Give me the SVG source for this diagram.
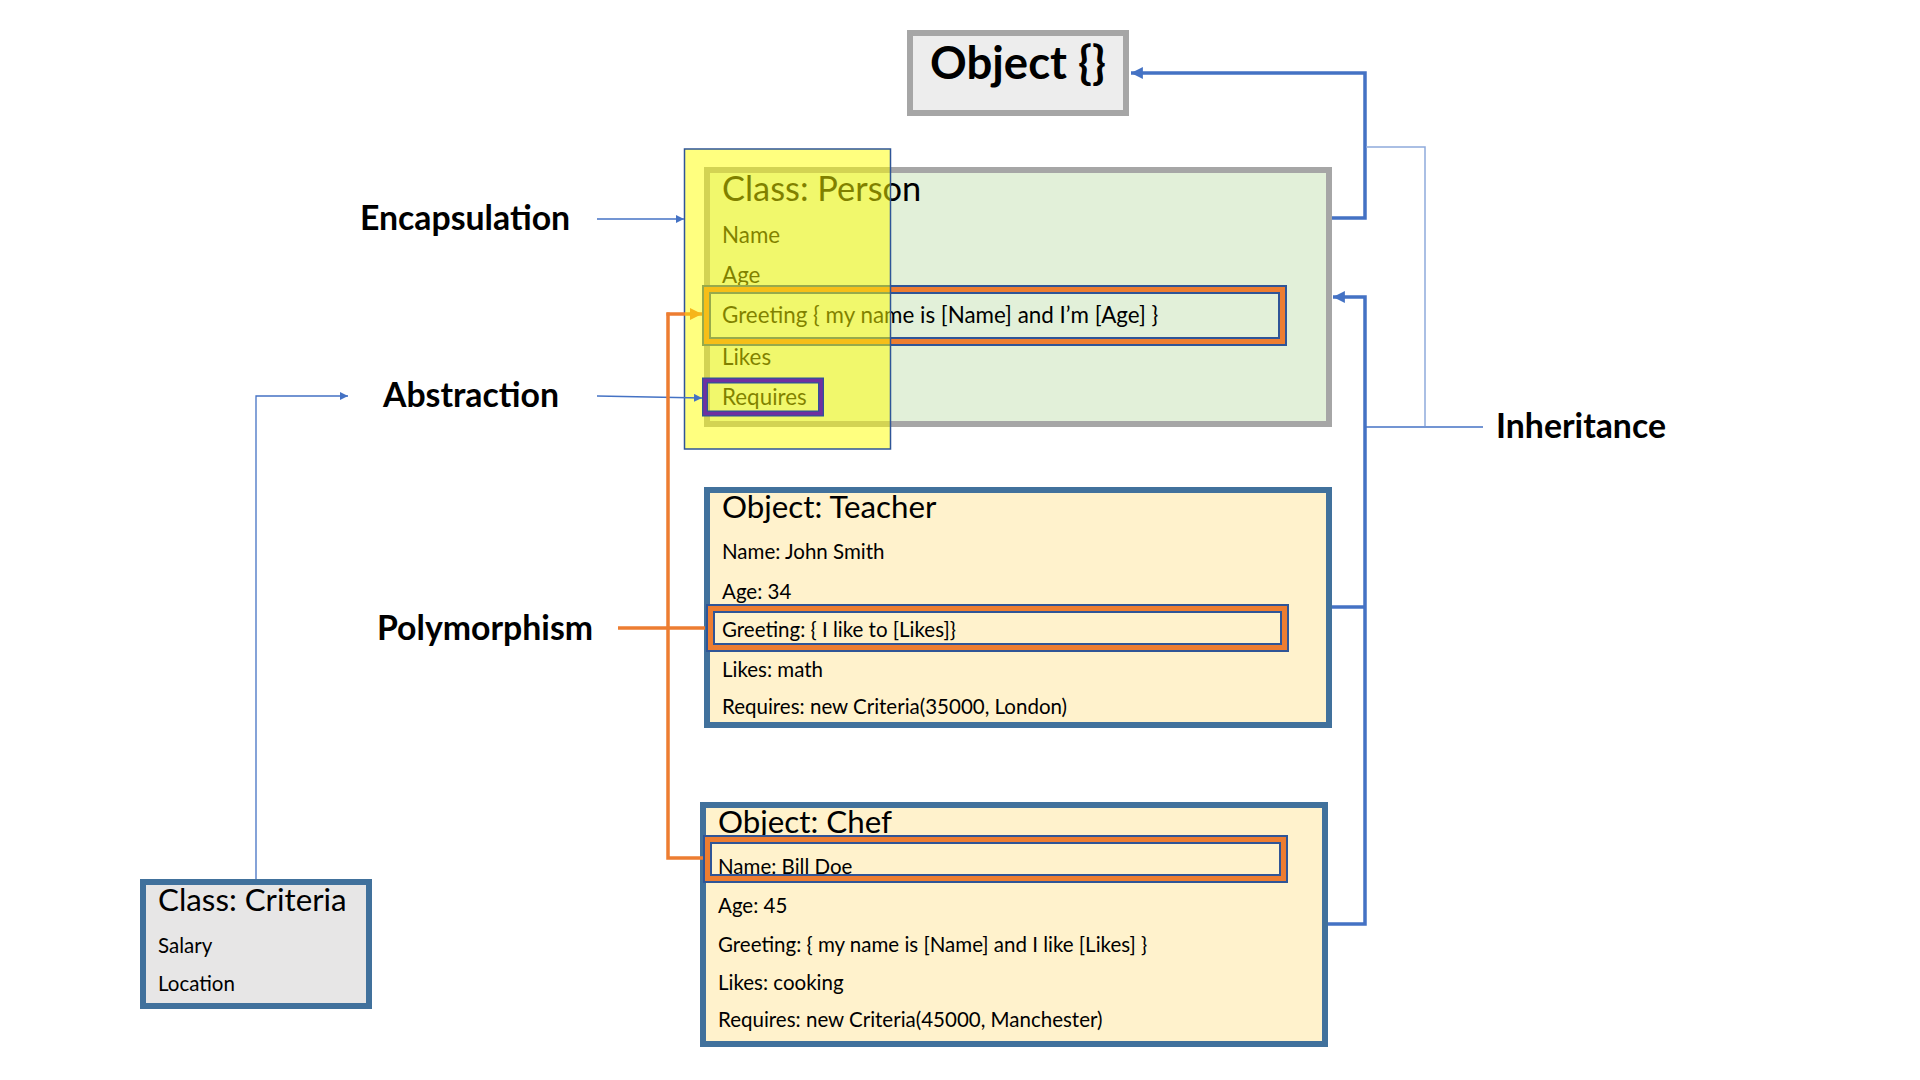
<svg xmlns="http://www.w3.org/2000/svg" width="1920" height="1080" viewBox="0 0 1920 1080">
<style>
text{font-family:Lato,"Open Sans","Liberation Sans",sans-serif;fill:#000}
.lbl{font-weight:bold;font-size:33.8px;text-anchor:middle}
.title{font-size:34.4px}
.sub{font-size:31.3px}
.body{font-size:20.5px}
.pbody{font-size:22.4px}
.obox{fill:#fff2cc;stroke:#41719c;stroke-width:6}
.hlb{fill:none;stroke:#2f5597;stroke-width:9}
.hlo{fill:none;stroke:#ed7d31;stroke-width:5}
.thick{fill:none;stroke:#4472c4;stroke-width:3.5}
.thin{fill:none;stroke:#4472c4;stroke-width:1.3}
.light{fill:none;stroke:#8faadc;stroke-width:1.5}
.orange{fill:none;stroke:#ed7d31;stroke-width:3.5}
</style>
<defs>
<marker id="ah" viewBox="0 0 10 10" refX="10" refY="5" markerWidth="3.4" markerHeight="3.4" orient="auto" markerUnits="strokeWidth"><path d="M0,0L10,5L0,10z" fill="#4472c4"/></marker>
<marker id="ahs" viewBox="0 0 10 10" refX="10" refY="5" markerWidth="8" markerHeight="8" orient="auto" markerUnits="userSpaceOnUse"><path d="M0,0L10,5L0,10z" fill="#4472c4"/></marker>
<marker id="ahy" viewBox="0 0 10 10" refX="10" refY="5" markerWidth="14" markerHeight="12" orient="auto" markerUnits="userSpaceOnUse"><path d="M0,0L10,5L0,10z" fill="#f6b61a"/></marker>
</defs>

<g id="labels">
<text class="lbl" x="465" y="230">Encapsulation</text>
<text class="lbl" x="471" y="407">Abstraction</text>
<text class="lbl" x="485" y="640">Polymorphism</text>
<text class="lbl" x="1581" y="438">Inheritance</text>
</g>

<g id="object">
<rect x="910" y="33" width="216" height="80" fill="#ededed" stroke="#a6a6a6" stroke-width="6"/>
<text x="1018" y="79" font-size="45.5" font-weight="bold" text-anchor="middle">Object {}</text>
</g>

<g id="person">
<rect x="707" y="170" width="622" height="254" fill="#e2f0d9" stroke="#a6a6a6" stroke-width="6"/>
<text class="title" x="722" y="201">Class: Person</text>
<text class="pbody" x="722" y="243">Name</text>
<text class="pbody" x="722" y="283">Age</text>
<rect class="hlb" x="706.5" y="289.5" width="576" height="52"/>
<rect class="hlo" x="706.5" y="289.5" width="576" height="52"/>
<text class="pbody" x="722" y="323">Greeting { my name is [Name] and I’m [Age] }</text>
<text class="pbody" x="722" y="365">Likes</text>
<text class="pbody" x="722" y="405">Requires</text>
</g>

<g id="encapsulation-highlight">
<rect x="684.5" y="149" width="206" height="300" fill="#ffff00" fill-opacity="0.5" stroke="#2f5597" stroke-width="1.5"/>
</g>

<g id="abstraction-highlight">
<rect x="705" y="380.5" width="116" height="33" fill="none" stroke="#2f5597" stroke-width="6"/>
<rect x="705" y="380.5" width="116" height="33" fill="none" stroke="#7030a0" stroke-width="3.5"/>
</g>

<g id="teacher">
<rect class="obox" x="707" y="490" width="622" height="235"/>
<text class="sub" x="722" y="518">Object: Teacher</text>
<text class="body" x="722" y="559">Name: John Smith</text>
<text class="body" x="722" y="599">Age: 34</text>
<rect class="hlb" x="710.5" y="608.5" width="574" height="39"/>
<rect class="hlo" x="710.5" y="608.5" width="574" height="39"/>
<text class="body" x="722" y="637">Greeting: { I like to [Likes]}</text>
<text class="body" x="722" y="677">Likes: math</text>
<text class="body" x="722" y="714">Requires: new Criteria(35000, London)</text>
</g>

<g id="chef">
<rect class="obox" x="703" y="805" width="622" height="239"/>
<text class="sub" x="718" y="833">Object: Chef</text>
<rect class="hlb" x="707.5" y="839.5" width="576" height="39"/>
<rect class="hlo" x="707.5" y="839.5" width="576" height="39"/>
<text class="body" x="718" y="874">Name: Bill Doe</text>
<text class="body" x="718" y="913">Age: 45</text>
<text class="body" x="718" y="952">Greeting: { my name is [Name] and I like [Likes] }</text>
<text class="body" x="718" y="990">Likes: cooking</text>
<text class="body" x="718" y="1027">Requires: new Criteria(45000, Manchester)</text>
</g>

<g id="criteria">
<rect x="143" y="882" width="226" height="124" fill="#e7e6e6" stroke="#41719c" stroke-width="6"/>
<text class="sub" x="158" y="911">Class: Criteria</text>
<text class="body" x="158" y="953">Salary</text>
<text class="body" x="158" y="991">Location</text>
</g>

<g id="connectors">
<path class="thick" d="M1332,218H1365V73H1131" marker-end="url(#ah)"/>
<path class="thick" d="M1328,924H1365V297H1333" marker-end="url(#ah)"/>
<path class="thick" d="M1332,607H1365"/>
<path class="light" d="M1366,147H1425V426"/>
<path class="thin" d="M1366,427H1483"/>
<path class="thin" d="M597,219H684" marker-end="url(#ahs)"/>
<path class="thin" d="M597,396L702,398" marker-end="url(#ahs)"/>
<path class="thin" d="M256,879V396H348" marker-end="url(#ahs)"/>
<path class="orange" d="M618,628H705"/>
<path class="orange" d="M668,312.5V858H703"/>
<path class="orange" d="M666.5,314H685"/>
<path d="M685,314H702" fill="none" stroke="#f6b61a" stroke-width="3.5" marker-end="url(#ahy)"/>
</g>
</svg>
